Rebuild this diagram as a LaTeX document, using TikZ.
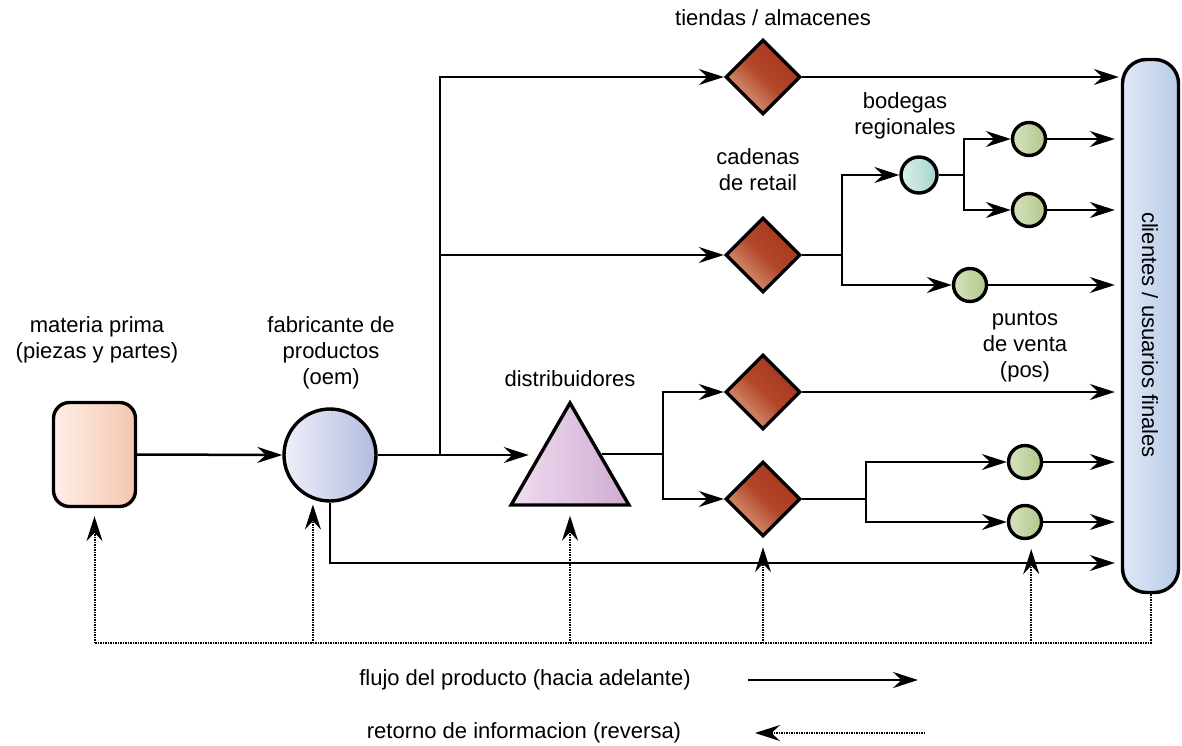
\documentclass[tikz,border=0pt]{standalone}
\usepackage{fontspec}
\setmainfont{Liberation Sans}
\usetikzlibrary{arrows.meta,shapes.geometric,calc}

\definecolor{mpL}{HTML}{FDEFE8}
\definecolor{mpR}{HTML}{F5C6AF}
\definecolor{fabL}{HTML}{EEF0F9}
\definecolor{fabR}{HTML}{B3BCDF}
\definecolor{triL}{HTML}{EEDEF0}
\definecolor{triR}{HTML}{D0ABD1}
\definecolor{dDark}{HTML}{A5371D}
\definecolor{dMid}{HTML}{B3472A}
\definecolor{dLight}{HTML}{DDA083}
\definecolor{bodL}{HTML}{DCEFED}
\definecolor{bodR}{HTML}{A5D4CD}
\definecolor{gL}{HTML}{D6E3BE}
\definecolor{gR}{HTML}{B2C78A}
\definecolor{cliL}{HTML}{E0E8F6}
\definecolor{cliR}{HTML}{B8CCE8}

\tikzset{
  flowtip/.tip={Stealth[length=25pt,width=16pt,inset=8.5pt]},
  plain/.style={line width=2.5pt},
  flow/.style={line width=2.5pt,-flowtip},
  tocli/.style={shorten >=6pt},
  info/.style={line width=2pt,dash pattern=on 1.5pt off 1pt,draw=black},
  infoarrow/.style={info,-flowtip},
  outline/.style={draw=black,line width=3.4pt,inner sep=0pt},
  mpbox/.style={outline,rectangle,rounded corners=16pt,minimum width=82pt,minimum height=104pt,left color=mpL,right color=mpR},
  fabnode/.style={outline,circle,minimum size=92pt,left color=fabL,right color=fabR},
  trinode/.style={outline,regular polygon,regular polygon sides=3,minimum size=136pt,left color=triL,right color=triR},
  dia/.style={outline,diamond,aspect=1,minimum width=75pt,minimum height=75pt,
    top color=dDark,bottom color=dLight,middle color=dMid,shading angle=-45},
  bodnode/.style={outline,circle,minimum size=36pt,left color=bodL,right color=bodR},
  posnode/.style={outline,circle,minimum size=33pt,left color=gL,right color=gR},
  clibar/.style={outline,rectangle,rounded corners=24pt,minimum width=56pt,minimum height=533pt,left color=cliL,right color=cliR},
  lbl/.style={font=\fontsize{22}{26}\selectfont,align=center,inner sep=0pt},
}

\begin{document}
\begin{tikzpicture}[x=1pt,y=-1pt]
\useasboundingbox (0,0) rectangle (1182,746);

% supply chain stages
\node[mpbox] (mp) at (94.5,454.5) {};
\node[fabnode] (fab) at (330,455) {};
\node[trinode] (tri) at (570,471) {};
\node[dia] (d1) at (763,77) {};
\node[dia] (d2) at (763,255) {};
\node[dia] (d3) at (763,392) {};
\node[dia] (d4) at (763,499) {};
\node[bodnode] (bod) at (919,175) {};
\node[posnode] (g1) at (1029,139) {};
\node[posnode] (g2) at (1029,210) {};
\node[posnode] (g3) at (970,285) {};
\node[posnode] (g4) at (1025,462) {};
\node[posnode] (g5) at (1025,522) {};
\node[clibar] (cli) at (1150.5,326) {};

% labels
\node[lbl] (tmp) at (97,340) {materia prima\\(piezas y partes)};
\node[lbl] (tfab) at (331,353) {fabricante de\\productos\\(oem)};
\node[lbl] (td1) at (773,18) {tiendas / almacenes};
\node[lbl] (tbod) at (905,116) {bodegas\\regionales};
\node[lbl] (td2) at (758,170) {cadenas\\de retail};
\node[lbl] (ttri) at (570,379) {distribuidores};
\node[lbl] (tpos) at (1025,347) {puntos\\de venta\\(pos)};
\node[lbl,rotate=-90] (tcli) at (1150,335) {clientes / usuarios finales};

% junction points
\coordinate (j1) at (440,455);
\coordinate (j2) at (842,255);
\coordinate (j3) at (964,175);
\coordinate (jd) at (663,455);
\coordinate (j4) at (866,499);
\coordinate (low) at (0,563);
\coordinate (fb) at (0,643);

% product flow
\draw[flow] (mp.east) -- (fab.west);
\draw[flow] (fab.east) -- (tri.west |- fab.east);
\draw[flow] (j1) |- (d1.west);
\draw[flow] (j1) |- (d2.west);
\draw[flow,shorten >=2pt] (d1.east) -- (d1.east -| cli.west);
\draw[plain] (d2.east) -- (j2);
\draw[flow] (j2) |- (bod.west);
\draw[flow] (j2) |- (g3.west);
\draw[plain] (bod.east) -- (j3);
\draw[flow] (j3) |- (g1.west);
\draw[flow] (j3) |- (g2.west);
\draw[flow,tocli] (g1.east) -- (g1.east -| cli.west);
\draw[flow,tocli] (g2.east) -- (g2.east -| cli.west);
\draw[flow,tocli] (g3.east) -- (g3.east -| cli.west);
\draw[plain] (tri.28) -- (tri.28 -| jd);
\draw[flow] (jd) |- (d3.west);
\draw[flow] (jd) |- (d4.west);
\draw[flow,tocli] (d3.east) -- (d3.east -| cli.west);
\draw[plain] (d4.east) -- (j4);
\draw[flow] (j4) |- (g4.west);
\draw[flow] (j4) |- (g5.west);
\draw[flow,tocli] (g4.east) -- (g4.east -| cli.west);
\draw[flow,tocli] (g5.east) -- (g5.east -| cli.west);
\draw[flow,tocli] (fab.south) |- (cli.west |- low);

% information feedback
\draw[info] (cli.south) |- (mp.south |- fb);
\draw[infoarrow,shorten >=8pt] (mp.south |- fb) -- (mp.south);
\draw[infoarrow,shorten >=5pt] (fab.-111 |- fb) -- (fab.-111);
\draw[infoarrow,shorten >=9pt] (tri.south |- fb) -- (tri.south);
\draw[infoarrow,shorten >=9pt] (d4.south |- fb) -- (d4.south);
\draw[infoarrow,shorten >=10pt] (g5.-70 |- fb) -- (g5.-70);

% legend
\node[lbl] (lg1) at (525,680) {flujo del producto (hacia adelante)};
\coordinate (la1) at (748,680);
\coordinate (lb1) at (918,680);
\draw[flow] (la1) -- (lb1);
\node[lbl] (lg2) at (524,733) {retorno de informacion (reversa)};
\coordinate (la2) at (925,733);
\coordinate (lb2) at (755,733);
\draw[infoarrow] (la2) -- (lb2);
\end{tikzpicture}
\end{document}
